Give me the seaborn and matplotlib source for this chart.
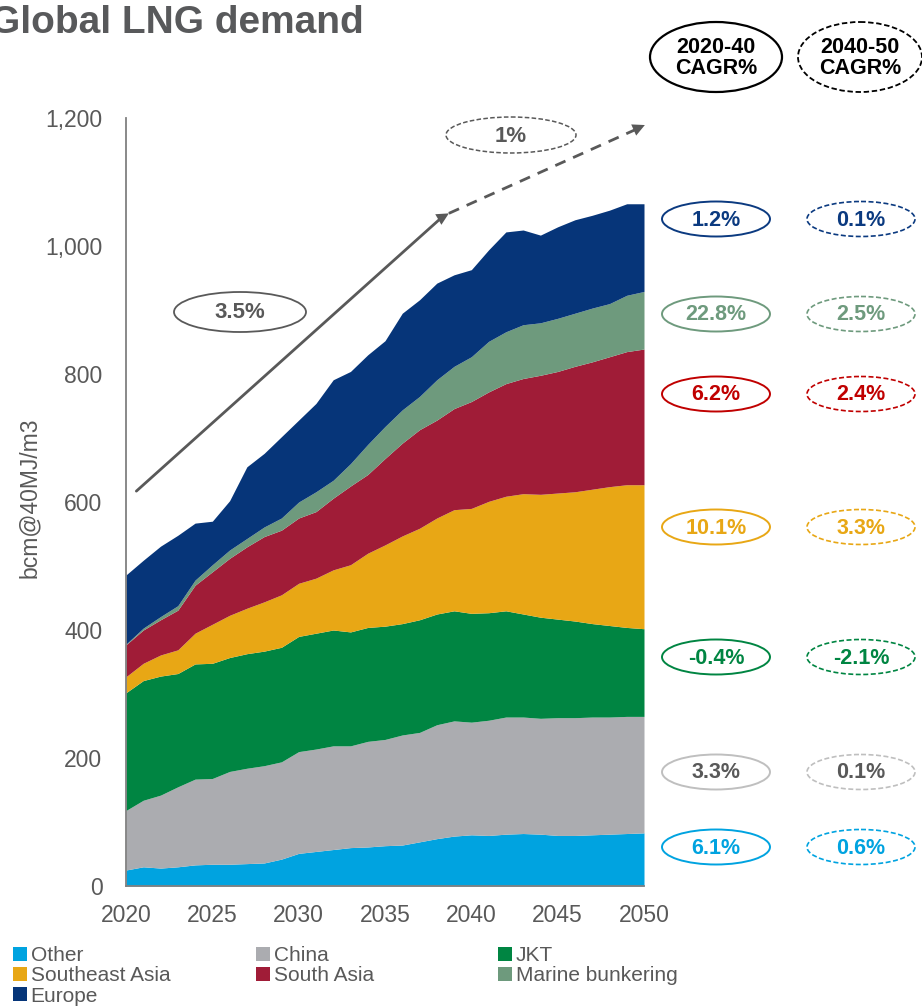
import numpy as np
import pandas as pd
import matplotlib
matplotlib.use("Agg")
import matplotlib.pyplot as plt
from matplotlib.patches import Ellipse, Patch
from matplotlib.ticker import FuncFormatter
import seaborn as sns

# --- data (bcm) ---
years = list(range(2020, 2051))
other = [25, 30, 28, 30, 33, 34, 34, 35, 36, 42, 51, 54, 57, 60, 61, 63,
         64, 69, 74, 78, 80, 79, 81, 82, 81, 79, 79, 80, 81, 82, 83]
china = [93, 104, 114, 125, 134, 134, 145, 149, 152, 152, 159, 160, 162, 159, 165, 166,
         172, 171, 178, 180, 176, 180, 183, 182, 181, 184, 184, 184, 183, 183, 182]
jkt = [184, 187, 186, 177, 180, 180, 178, 179, 179, 179, 180, 181, 181, 178, 178, 177,
       174, 176, 173, 172, 170, 168, 166, 161, 158, 154, 151, 146, 143, 139, 137]
se_asia = [25, 27, 33, 37, 48, 61, 66, 71, 77, 82, 83, 86, 94, 105, 116, 127,
           137, 143, 150, 158, 164, 174, 179, 188, 192, 197, 202, 210, 217, 223, 225]
south_asia = [50, 52, 55, 62, 75, 82, 89, 96, 102, 101, 102, 104, 112, 123, 123, 135,
              145, 154, 153, 158, 167, 171, 176, 180, 186, 190, 196, 199, 203, 208, 212]
marine = [1, 3, 5, 7, 8, 11, 13, 13, 15, 19, 25, 31, 28, 35, 47, 50,
          52, 52, 63, 66, 70, 79, 81, 84, 82, 83, 83, 84, 83, 88, 90]
europe = [108, 106, 110, 110, 89, 68, 77, 112, 115, 127, 128, 138, 157, 144, 140, 134,
          151, 151, 151, 143, 136, 143, 156, 148, 137, 143, 146, 145, 146, 143, 137]

series_names = ["Other", "China", "JKT", "Southeast Asia", "South Asia",
                "Marine bunkering", "Europe"]
series_colors = ["#00A3E0", "#ABACB0", "#008542", "#E8A715", "#A01C37",
                 "#6E9A7D", "#063579"]
cagr_20_40 = ["6.1%", "3.3%", "-0.4%", "10.1%", "6.2%", "22.8%", "1.2%"]
cagr_40_50 = ["0.6%", "0.1%", "-2.1%", "3.3%", "2.4%", "2.5%", "0.1%"]
cagr_text_colors = ["#00A3E0", "#595959", "#008542", "#E8A715", "#C00000",
                    "#6E9A7D", "#0B3A80"]
cagr_edge_colors = ["#00A3E0", "#BFBFBF", "#008542", "#E8A715", "#C00000",
                    "#6E9A7D", "#0B3A80"]
total_cagr = ["3.5%", "1%"]

df = pd.DataFrame({"Other": other, "China": china, "JKT": jkt,
                   "Southeast Asia": se_asia, "South Asia": south_asia,
                   "Marine bunkering": marine, "Europe": europe}, index=years)

# --- style ---
sns.set_theme(style="white")
plt.rcParams["font.family"] = ["Liberation Sans", "DejaVu Sans"]
GREY = "#595959"

W, H = 922, 1007
fig = plt.figure(figsize=(W / 100, H / 100), dpi=100)
ax = fig.add_axes([126 / W, 1 - 886 / H, (644 - 126) / W, (886 - 118) / H])

ax.stackplot(df.index, df[series_names].T.values, colors=series_colors,
             labels=series_names, linewidth=0)
ax.set_xlim(2020, 2050)
ax.set_ylim(0, 1200)
ax.set_xticks(range(2020, 2051, 5))
ax.set_yticks(range(0, 1201, 200))
ax.yaxis.set_major_formatter(FuncFormatter(lambda v, p: f"{int(v):,}"))
ax.tick_params(axis="x", length=0, pad=13, labelsize=16.5, labelcolor=GREY)
ax.tick_params(axis="y", length=0, pad=17, labelsize=16.5, labelcolor=GREY)
sns.despine(ax=ax)
for side in ["left", "bottom"]:
    ax.spines[side].set_color("#808080")
    ax.spines[side].set_linewidth(1.3)
ax.set_ylabel("bcm@40MJ/m3", fontsize=16.5, color=GREY)
ax.yaxis.set_label_coords(-0.165, 0.505)

# total demand arrows (3.5% to 2038, 1% beyond)
ax.plot([2020.6, 2038.3], [617, 1045], color=GREY, lw=2, clip_on=False)
ax.annotate("", xy=(2038.7, 1051), xytext=(2038.0, 1040),
            arrowprops=dict(arrowstyle="-|>", color=GREY, lw=0, mutation_scale=22,
                            shrinkA=0, shrinkB=0), annotation_clip=False)
ax.plot([2038.7, 2049.6], [1051, 1183], color=GREY, lw=2, ls=(0, (4, 3)), clip_on=False)
ax.annotate("", xy=(2050.05, 1189), xytext=(2049.3, 1180),
            arrowprops=dict(arrowstyle="-|>", color=GREY, lw=0, mutation_scale=22,
                            shrinkA=0, shrinkB=0), annotation_clip=False)

# overlay in pixel coordinates for labels and ellipses
ov = fig.add_axes([0, 0, 1, 1])
ov.set_xlim(0, W)
ov.set_ylim(H, 0)
ov.axis("off")
ov.patch.set_visible(False)


def bubble(x, y, w, h, text, edge, tcolor, dashed=False, size=15, lw=1.4):
    ov.add_patch(Ellipse((x, y), w, h, fill=False, edgecolor=edge, lw=lw,
                         ls=(0, (3, 1.5)) if dashed else "-"))
    ov.text(x, y + 1, text, ha="center", va="center", fontsize=size,
            fontweight="bold", color=tcolor, linespacing=1.0)


ov.text(-10, 33, "Global LNG demand", fontsize=28, fontweight="bold",
        color="#58595B", ha="left", va="baseline")

bubble(716, 57, 132, 70, "2020-40\nCAGR%", "black", "black", size=15.5, lw=1.6)
bubble(860, 57, 124, 70, "2040-50\nCAGR%", "black", "black", dashed=True, size=15.5, lw=1.3)

bubble(240, 312, 132, 40, total_cagr[0], GREY, GREY, size=16, lw=1.3)
bubble(511, 135, 130, 36, total_cagr[1], GREY, GREY, dashed=True, size=16, lw=1.1)

row_y = [847, 772, 657, 527, 394, 314, 219]
for i in range(len(series_names)):
    bubble(716, row_y[i], 108, 35, cagr_20_40[i], cagr_edge_colors[i],
           cagr_text_colors[i], size=15.5)
    bubble(861, row_y[i], 108, 35, cagr_40_50[i], cagr_edge_colors[i],
           cagr_text_colors[i], dashed=True, size=15.5, lw=1.2)

# legend, three columns laid out row by row
handles = [Patch(facecolor=c, edgecolor="none", label=n)
           for n, c in zip(series_names, series_colors)]
cols = [[handles[0], handles[3], handles[6]],
        [handles[1], handles[4]],
        [handles[2], handles[5]]]
col_x = [13, 256, 498]
for hs, cx in zip(cols, col_x):
    leg = fig.legend(handles=hs, loc="upper left", bbox_to_anchor=(cx / W, 1 - 946 / H),
                     frameon=False, fontsize=15, handlelength=0.65, handleheight=0.65,
                     handletextpad=0.2, labelspacing=0.06, borderpad=0, borderaxespad=0)
    for t in leg.get_texts():
        t.set_color(GREY)

fig.savefig("out.png", dpi=100)
